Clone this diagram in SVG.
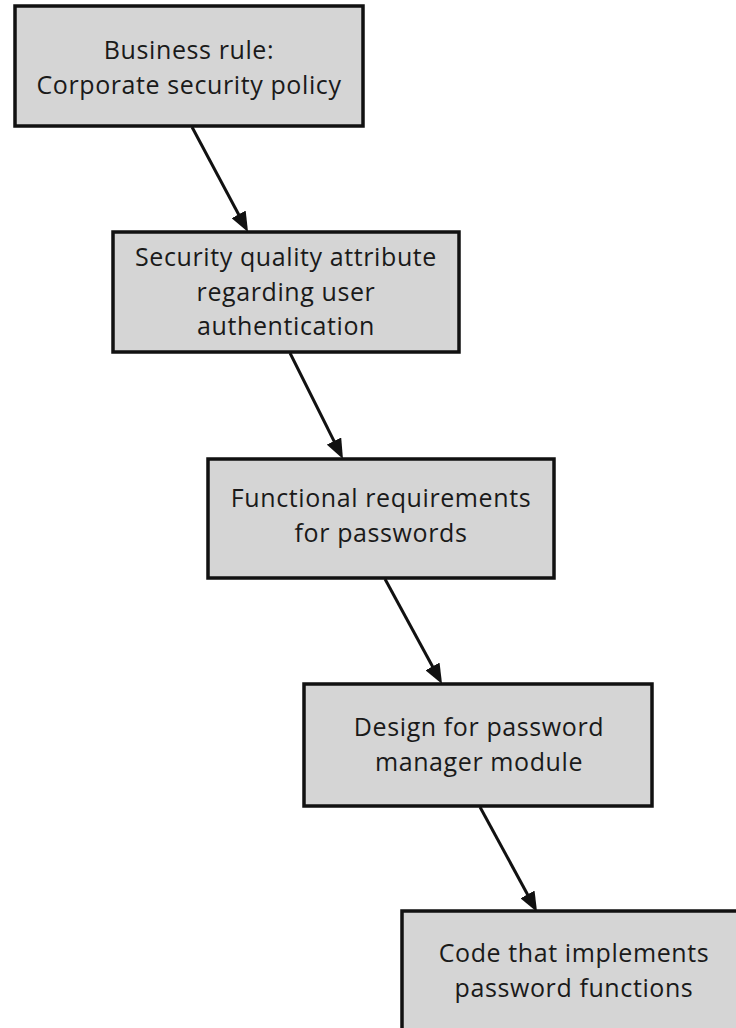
<svg xmlns="http://www.w3.org/2000/svg" width="736" height="1028" viewBox="0 0 736 1028">
  <style>
    .box { fill: #d5d5d5; stroke: #111; stroke-width: 3.5; }
    .lbl { font-family: "Open Sans", "Noto Sans", sans-serif; font-size: 25px; letter-spacing: 0.6px; fill: #1a1a1a; text-anchor: middle; }
    .conn { stroke: #111; stroke-width: 3; fill: none; marker-end: url(#arrow); }
  </style>
  <defs>
    <marker id="arrow" markerUnits="userSpaceOnUse" markerWidth="22" markerHeight="16" refX="14" refY="8" orient="auto">
      <path d="M0,0 L20,8 L0,16 z" fill="#111"/>
    </marker>
  </defs>
  <rect width="736" height="1028" fill="#ffffff"/>

  <g id="connectors">
    <line class="conn" x1="192" y1="127" x2="245.2" y2="226.7"/>
    <line class="conn" x1="290" y1="353" x2="340.3" y2="453.6"/>
    <line class="conn" x1="385" y1="579" x2="439.2" y2="678.7"/>
    <line class="conn" x1="480" y1="807" x2="534.2" y2="906.7"/>
  </g>

  <g id="node1">
    <rect class="box" x="15" y="6" width="348" height="120"/>
    <text class="lbl" x="189" y="59">Business rule:</text>
    <text class="lbl" x="189" y="93.5">Corporate security policy</text>
  </g>

  <g id="node2">
    <rect class="box" x="113" y="232" width="346" height="120"/>
    <text class="lbl" x="286" y="266">Security quality attribute</text>
    <text class="lbl" x="286" y="300.5">regarding user</text>
    <text class="lbl" x="286" y="335">authentication</text>
  </g>

  <g id="node3">
    <rect class="box" x="208" y="459" width="346" height="119"/>
    <text class="lbl" x="381" y="507">Functional requirements</text>
    <text class="lbl" x="381" y="541.5">for passwords</text>
  </g>

  <g id="node4">
    <rect class="box" x="304" y="684" width="348" height="122"/>
    <text class="lbl" x="479" y="736">Design for password</text>
    <text class="lbl" x="479" y="770.5">manager module</text>
  </g>

  <g id="node5">
    <rect class="box" x="402" y="911" width="350" height="130"/>
    <text class="lbl" x="574" y="962">Code that implements</text>
    <text class="lbl" x="574" y="996.5">password functions</text>
  </g>
</svg>
